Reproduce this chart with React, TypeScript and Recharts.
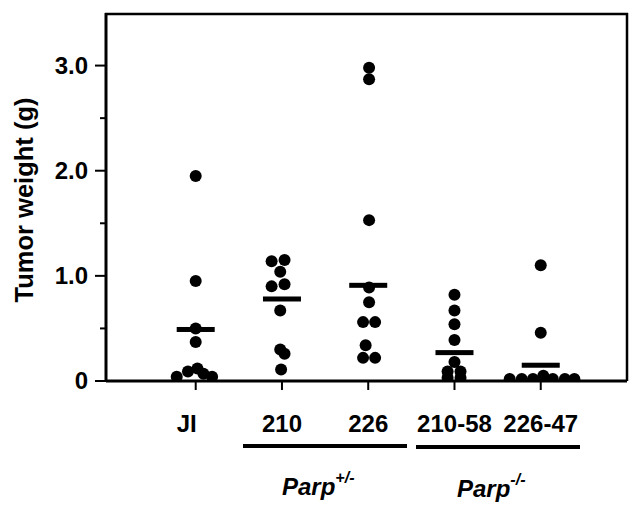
import { ScatterChart, Scatter, XAxis, YAxis } from 'recharts';

const groupLabels = ['JI', '210', '226', '210-58', '226-47'];

// tumor weights (g) per group, plus the horizontal jitter of each dot
const jiWeights = [1.95, 0.95, 0.5, 0.37, 0.04, 0.09, 0.12, 0.07, 0.04];
const jiJitter = [0, 0, 0, 0, -0.22, -0.09, 0.02, 0.09, 0.19];
const het210Weights = [1.14, 1.15, 1.04, 0.9, 0.92, 0.67, 0.3, 0.26, 0.11];
const het210Jitter = [-0.12, 0.03, -0.02, -0.12, 0.03, -0.02, -0.02, 0.03, -0.01];
const het226Weights = [2.98, 2.87, 1.53, 0.89, 0.75, 0.56, 0.56, 0.34, 0.22, 0.22];
const het226Jitter = [0.01, 0.01, 0.01, 0.01, 0.01, -0.06, 0.08, -0.03, -0.06, 0.08];
const ko21058Weights = [0.82, 0.67, 0.54, 0.39, 0.18, 0.09, 0.09, 0.03, 0.03];
const ko21058Jitter = [0, 0, 0, 0, 0, -0.08, 0.07, -0.08, 0.07];
const ko22647Weights = [1.1, 0.46, 0.02, 0.02, 0.02, 0.05, 0.02, 0.02, 0.02];
const ko22647Jitter = [0, 0, -0.36, -0.22, -0.09, 0.03, 0.14, 0.28, 0.39];

const meanWeights = [0.49, 0.78, 0.91, 0.27, 0.15];

const yTicks = [0, 0.5, 1, 1.5, 2, 2.5, 3];
const yTickLabels: Record<number, string> = { 0: '0', 1: '1.0', 2: '2.0', 3: '3.0' };

const groups = [
  { weights: jiWeights, jitter: jiJitter },
  { weights: het210Weights, jitter: het210Jitter },
  { weights: het226Weights, jitter: het226Jitter },
  { weights: ko21058Weights, jitter: ko21058Jitter },
  { weights: ko22647Weights, jitter: ko22647Jitter },
];

const points = groups.flatMap((g, i) => g.weights.map((w, j) => ({ x: i + 1 + g.jitter[j], y: w })));
const means = meanWeights.map((m, i) => ({ x: i + 1, y: m }));

const FONT = '"Liberation Sans", Arial, Helvetica, sans-serif';
const PLOT_TOP = 13;

const YTick = ({ x, y, payload }: any) => {
  const major = Number.isInteger(payload.value);
  return (
    <g>
      <line x1={x - (major ? 11 : 6)} x2={x} y1={y} y2={y} stroke="#000" strokeWidth={2} />
      {major && (
        <text x={x - 18} y={y + 8} textAnchor="end" fontFamily={FONT} fontWeight="bold" fontSize={24} fill="#000">
          {yTickLabels[payload.value]}
        </text>
      )}
    </g>
  );
};

const XTick = ({ x, y, payload, index }: any) => {
  const shift = index === 0 ? -9 : 0;
  return (
    <g>
      <line x1={x} x2={x} y1={y} y2={y + 9} stroke="#000" strokeWidth={2} />
      <text x={x + shift} y={y + 51} textAnchor="middle" fontFamily={FONT} fontWeight="bold" fontSize={24} fill="#000">
        {groupLabels[payload.value - 1]}
      </text>
    </g>
  );
};

// top and right edges of the plot frame, drawn from the x axis box
const Frame = ({ viewBox }: any) => {
  const { x, y, width } = viewBox;
  return (
    <g>
      <line x1={x - 1} x2={x + width + 1} y1={PLOT_TOP + 1} y2={PLOT_TOP + 1} stroke="#000" strokeWidth={2.5} />
      <line x1={x + width} x2={x + width} y1={PLOT_TOP} y2={y} stroke="#000" strokeWidth={2.5} />
    </g>
  );
};

const Dot = (props: any) => <circle cx={props.cx} cy={props.cy} r={6} fill="#000" />;
const MeanBar = (props: any) => <rect x={props.cx - 19} y={props.cy - 2.5} width={38} height={5} fill="#000" />;

export default function App() {
  return (
    <div style={{ position: 'absolute', left: 0, top: 0, width: 638, height: 506, background: '#fff' }}>
      <ScatterChart width={638} height={506} margin={{ top: PLOT_TOP, right: 11, bottom: 95, left: 0 }}>
        <XAxis
          type="number"
          dataKey="x"
          domain={[-0.04, 6]}
          ticks={[1, 2, 3, 4, 5]}
          interval={0}
          tick={<XTick />}
          tickLine={false}
          tickSize={0}
          tickMargin={0}
          height={30}
          axisLine={{ stroke: '#000', strokeWidth: 3 }}
          allowDataOverflow
          label={{ content: (p: any) => <Frame {...p} /> }}
        />
        <YAxis
          type="number"
          dataKey="y"
          domain={[0, 3.5]}
          ticks={yTicks}
          interval={0}
          tick={<YTick />}
          tickLine={false}
          tickSize={0}
          tickMargin={0}
          width={106}
          axisLine={{ stroke: '#000', strokeWidth: 3 }}
          allowDataOverflow
          label={{
            content: () => (
              <text
                x={33}
                y={200}
                transform="rotate(-90, 33, 200)"
                textAnchor="middle"
                fontFamily={FONT}
                fontWeight="bold"
                fontSize={25.5}
                fill="#000"
              >
                Tumor weight (g)
              </text>
            ),
          }}
        />
        <Scatter data={points} shape={<Dot />} isAnimationActive={false} />
        <Scatter data={means} shape={<MeanBar />} isAnimationActive={false} />
      </ScatterChart>
      <svg width={638} height={506} style={{ position: 'absolute', left: 0, top: 0, pointerEvents: 'none' }}>
        <line x1={243} x2={407} y1={446} y2={446} stroke="#000" strokeWidth={4} />
        <line x1={416} x2={580} y1={447} y2={447} stroke="#000" strokeWidth={4} />
        <text x={282} y={495} fontFamily={FONT} fontWeight="bold" fontStyle="italic" fontSize={24} fill="#000">
          Parp
          <tspan fontSize={16} dy={-12}>+/-</tspan>
        </text>
        <text x={457} y={497} fontFamily={FONT} fontWeight="bold" fontStyle="italic" fontSize={24} fill="#000">
          Parp
          <tspan fontSize={16} dy={-12}>-/-</tspan>
        </text>
      </svg>
    </div>
  );
}
